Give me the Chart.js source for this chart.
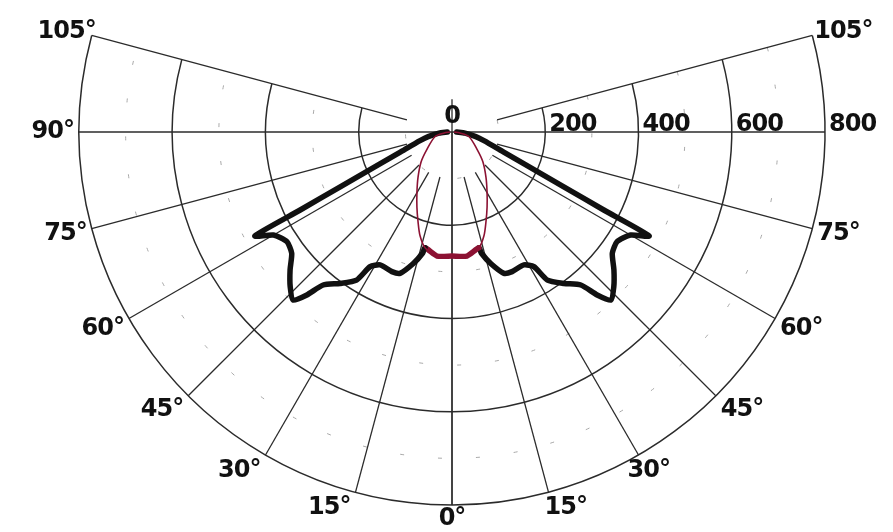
<!DOCTYPE html>
<html>
<head>
<meta charset="utf-8">
<script src="https://cdn.jsdelivr.net/npm/chart.js@4/dist/chart.umd.min.js"></script>
<style>
    html, body { margin: 0; padding: 0; background: #fff; }
    #wrap { width: 893px; height: 532px; }
</style>
</head>
<body>
<div id="wrap"><canvas id="polar" width="893" height="532"></canvas></div>
<script>
// ---- grid + labels ----
const ringValues = [200, 400, 600, 800];
const midRingValues = [100, 300, 500, 700];
const spokeAngles = [0, 15, 30, 45, 60, 75, 90, 105];
const angleLabels = ['0°', '15°', '30°', '45°', '60°', '75°', '90°', '105°'];
const ringLabels = ['0', '200', '400', '600', '800'];

// ---- plane A (wide, thick black) : angle from nadir (deg) / intensity (cd) ----
const planeAAngles = [0, 6.9, 13.1, 13.6, 16.4, 20.2, 23.3, 28.4, 31.3, 32.8, 36.5, 40.1, 41.7, 43.4, 46.3, 49.6, 52.9, 56.4, 60, 62.2, 62.8, 63.9, 66.2, 68.7, 74.8, 79, 85, 90];
const planeACd     = [266, 268, 255, 267, 294, 323, 326, 324, 338, 378, 404, 429, 468, 496, 480, 456, 431, 425, 442, 478, 366, 267, 169, 120, 71, 52, 28, 10];

// ---- plane B (narrow, thin red) ----
const planeBAngles = [0, 6.9, 13.1, 17.1, 20.7, 25, 30.3, 37, 46, 54.6, 74.5, 83, 90];
const planeBCd     = [266, 268, 255, 233, 206, 178, 149, 121, 92, 67, 38, 17, 4];

const RED = '#8c1233';
const INK = '#2b2b2b';
const RAD = Math.PI / 180;

// both halves of a plane as one path: right side (90 -> 0) then left side (0 -> 90)
function toPath(angles, cds) {
    var pts = [];
    for (var i = angles.length - 1; i >= 0; i--) {
        pts.push({ x: cds[i] * Math.sin(angles[i] * RAD), y: -cds[i] * Math.cos(angles[i] * RAD), a: angles[i] });
    }
    for (var j = 1; j < angles.length; j++) {
        pts.push({ x: -cds[j] * Math.sin(angles[j] * RAD), y: -cds[j] * Math.cos(angles[j] * RAD), a: angles[j] });
    }
    return pts;
}

// hand nudges for a few angle labels (px), as placed on the printed sheet
const leftNudge = { 105: 9 };
const rightNudge = { 15: -9, 30: -16, 105: -3 };

const polarGrid = {
    id: 'polarGrid',
    beforeDatasetsDraw(chart) {
        const ctx = chart.ctx, xs = chart.scales.x, ys = chart.scales.y;
        const cx = xs.getPixelForValue(0), cy = ys.getPixelForValue(0);
        const px = v => xs.getPixelForValue(v) - cx;
        const end = (r, deg, side) => ({ x: cx + side * px(r) * Math.sin(deg * RAD), y: cy + px(r) * Math.cos(deg * RAD) });
        ctx.save();
        // faint dashed half-rings
        ctx.strokeStyle = '#a8a8a8';
        ctx.lineWidth = 1;
        ctx.setLineDash([4, 34]);
        midRingValues.forEach(r => {
            ctx.beginPath();
            ctx.arc(cx, cy, px(r), -15 * RAD, 195 * RAD);
            ctx.stroke();
        });
        ctx.setLineDash([]);
        // rings
        ctx.strokeStyle = INK;
        ctx.lineWidth = 1.5;
        ringValues.forEach(r => {
            ctx.beginPath();
            ctx.arc(cx, cy, px(r), -15 * RAD, 195 * RAD);
            ctx.stroke();
        });
        // spokes
        ctx.lineWidth = 1.3;
        spokeAngles.forEach(a => {
            [-1, 1].forEach(side => {
                const inner = (a === 0 || a === 90) ? 0 : 100;
                const p0 = end(inner, a, side), p1 = end(800, a, side);
                ctx.beginPath();
                ctx.moveTo(p0.x, p0.y);
                ctx.lineTo(p1.x, p1.y);
                ctx.stroke();
            });
        });
        // short stub of the nadir line above the centre
        ctx.beginPath();
        ctx.moveTo(cx, cy);
        ctx.lineTo(cx, cy - px(70));
        ctx.stroke();
        ctx.restore();
    },
    afterDatasetsDraw(chart) {
        const ctx = chart.ctx, xs = chart.scales.x, ys = chart.scales.y;
        const cx = xs.getPixelForValue(0), cy = ys.getPixelForValue(0);
        const R = xs.getPixelForValue(800) - cx;
        ctx.save();
        ctx.fillStyle = '#111';
        ctx.font = 'bold 24px "DejaVu Sans", sans-serif';
        if ('letterSpacing' in ctx) ctx.letterSpacing = '-1px';
        ctx.textBaseline = 'middle';
        spokeAngles.forEach((a, i) => {
            const dy = 14 * Math.cos(a * RAD) + 4 * Math.max(0, Math.sin(2 * a * RAD));
            // the 90 deg label only sits on the left; the right end carries the 800 tick
            const sides = a === 0 ? [0] : (a === 90 ? [-1] : [-1, 1]);
            sides.forEach(side => {
                const ex = cx + side * R * Math.sin(a * RAD);
                const ey = cy + R * Math.cos(a * RAD);
                let x = ex + side * 5;
                if (side > 0 && rightNudge[a]) x += rightNudge[a];
                if (side < 0 && leftNudge[a]) x += leftNudge[a];
                ctx.textAlign = side === 0 ? 'center' : (side < 0 ? 'right' : 'left');
                ctx.fillText(angleLabels[i], x, ey + dy);
            });
        });
        // intensity scale along the 90 deg line
        ctx.textBaseline = 'alphabetic';
        ctx.textAlign = 'center';
        ctx.fillText(ringLabels[0], cx, cy - 9);
        ctx.textAlign = 'left';
        ringValues.forEach((r, i) => {
            ctx.fillText(ringLabels[i + 1], xs.getPixelForValue(r) + 4, cy - 1);
        });
        ctx.restore();
    }
};

const pathA = toPath(planeAAngles, planeACd);
const pathB = toPath(planeBAngles, planeBCd);
const overlapLimit = 13.1;

new Chart(document.getElementById('polar'), {
    type: 'scatter',
    data: {
        datasets: [
            {
                label: 'plane B',
                data: pathB,
                showLine: true,
                borderColor: RED,
                borderWidth: 1.6,
                pointRadius: 0,
                tension: 0.3
            },
            {
                label: 'plane A',
                data: pathA,
                showLine: true,
                borderColor: '#111',
                borderWidth: 5.5,
                borderJoinStyle: 'round',
                borderCapStyle: 'round',
                pointRadius: 0,
                tension: 0.2,
                segment: {
                    borderColor: c => {
                        const d = c.chart.data.datasets[c.datasetIndex].data;
                        return (d[c.p0DataIndex].a <= overlapLimit && d[c.p1DataIndex].a <= overlapLimit) ? RED : undefined;
                    }
                }
            }
        ]
    },
    options: {
        responsive: false,
        animation: false,
        devicePixelRatio: 1,
        layout: { padding: 0 },
        plugins: { legend: { display: false }, tooltip: { enabled: false } },
        scales: {
            x: { type: 'linear', display: false, min: -969.4, max: 945.8 },
            y: { type: 'linear', display: false, min: -857.9, max: 283.1 }
        }
    },
    plugins: [polarGrid]
});
</script>
</body>
</html>
